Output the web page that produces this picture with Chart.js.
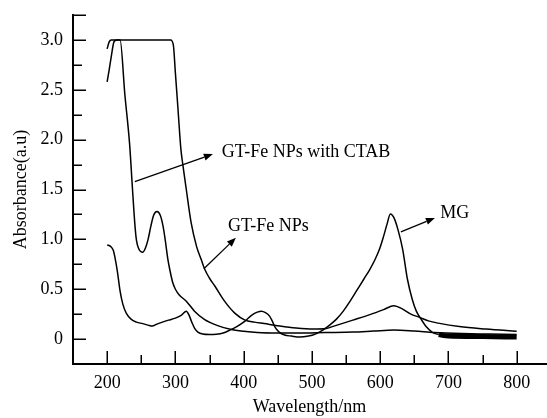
<!DOCTYPE html>
<html>
<head>
<meta charset="utf-8">
<script src="https://cdn.jsdelivr.net/npm/chart.js@4/dist/chart.umd.min.js"></script>
<style>
html,body{margin:0;padding:0;background:#fff;}
#wrap{width:547px;height:418px;}
</style>
</head>
<body>
<div id="wrap"><canvas id="c" width="547" height="418"></canvas></div>
<script>
// ---- data ----
const ctabWavelength = [200,203,206,210,214,219,226,233,237,241,243,246,252,256,260,264,268,273,278,282,285,289,292,296,300,306,316,328,343,362,382,400,420,450,480,520,560,590,620,650,680,720,760,800];
const ctabAbsorbance = [2.58,2.7,2.83,2.98,3.0,3.0,2.45,1.95,1.52,1.12,0.99,0.91,0.87,0.91,1.0,1.13,1.24,1.28,1.24,1.13,1.0,0.8,0.69,0.57,0.5,0.44,0.38,0.28,0.195,0.135,0.095,0.078,0.065,0.06,0.06,0.065,0.07,0.08,0.09,0.08,0.065,0.055,0.05,0.045];

const npsWavelength = [200,203,206,250,293,297,300,304,308,311,316,323,331,338,343,350,358,372,387,402,416,430,453,477,502,521,530,560,585,605,620,633,645,657,672,685,716,755,800];
const npsAbsorbance = [2.91,2.98,3.0,3.0,3.0,2.95,2.67,2.29,1.91,1.745,1.5,1.17,0.93,0.795,0.7,0.61,0.53,0.38,0.26,0.19,0.17,0.155,0.13,0.11,0.10,0.105,0.125,0.19,0.245,0.295,0.335,0.3,0.25,0.22,0.18,0.16,0.125,0.1,0.078];

const mgWavelength = [200,205,209,212,215,219,223,228,235,243,252,260,266,273,281,290,300,309,316,320,324,328,333,340,350,360,370,380,390,402,412,420,426,432,438,442,446,452,460,470,482,495,505,516,526,536,546,556,566,576,585,592,599,605,610,615,620,626,633,640,647,653,660,668,676,686,700,750,800];
const mgAbsorbance = [0.945,0.93,0.89,0.8,0.68,0.48,0.35,0.26,0.2,0.17,0.155,0.14,0.13,0.15,0.17,0.19,0.21,0.24,0.28,0.24,0.17,0.11,0.07,0.05,0.045,0.048,0.06,0.09,0.125,0.18,0.24,0.27,0.28,0.265,0.23,0.18,0.12,0.07,0.04,0.03,0.02,0.03,0.05,0.09,0.14,0.2,0.28,0.38,0.49,0.6,0.7,0.79,0.9,1.03,1.15,1.255,1.22,1.1,0.9,0.6,0.4,0.28,0.2,0.12,0.07,0.045,0.03,0.025,0.02];

const xTickValues = [200,300,400,500,600,700,800];
const xMinorTickValues = [250,350,450,550,650,750];
const yTickValues = [0,0.5,1.0,1.5,2.0,2.5,3.0];
const yTickLabels = ['0','0.5','1.0','1.5','2.0','2.5','3.0'];
const yMinorTickValues = [0.25,0.75,1.25,1.75,2.25,2.75];
const yEndTickValues = [3.25];

const annotationTexts = ['GT-Fe NPs with CTAB','GT-Fe NPs','MG'];
const annotationTextAt = [[368,1.875],[377,1.128],[688,1.265]];
const arrowFrom = [[240.6,1.578],[341.7,0.705],[630.4,1.075]];
const arrowTo = [[354.9,1.855],[388.6,1.015],[680.2,1.215]];

// ---- styles ----
const FONT = "'Liberation Serif','Times New Roman',serif";
const toPts = (xs, ys) => xs.map((x, i) => ({x, y: ys[i]}));

const tickMarks = {
  id: 'tickMarks',
  afterDraw(chart) {
    const {ctx, scales: {x, y}, chartArea: a} = chart;
    ctx.save();
    ctx.strokeStyle = '#000';
    ctx.lineWidth = 1.5;
    const xt = (vals, len) => vals.forEach(v => {
      const p = Math.round(x.getPixelForValue(v)) + 0.25;
      ctx.beginPath(); ctx.moveTo(p, a.bottom); ctx.lineTo(p, a.bottom - len); ctx.stroke();
    });
    const yt = (vals, len) => vals.forEach(v => {
      const p = Math.round(y.getPixelForValue(v)) + 0.25;
      ctx.beginPath(); ctx.moveTo(a.left, p); ctx.lineTo(a.left + len, p); ctx.stroke();
    });
    xt(xTickValues, 13); xt(xMinorTickValues, 9);
    yt(yTickValues, 13); yt(yMinorTickValues, 9); yt(yEndTickValues, 13);
    ctx.restore();
  }
};

const annotations = {
  id: 'annotations',
  afterDraw(chart) {
    const {ctx, scales: {x, y}} = chart;
    ctx.save();
    ctx.fillStyle = '#000';
    ctx.strokeStyle = '#000';
    ctx.lineWidth = 1.3;
    ctx.font = '18px ' + FONT;
    ctx.textAlign = 'left';
    ctx.textBaseline = 'middle';
    annotationTexts.forEach((t, i) => {
      ctx.fillText(t, x.getPixelForValue(annotationTextAt[i][0]), y.getPixelForValue(annotationTextAt[i][1]));
      const x0 = x.getPixelForValue(arrowFrom[i][0]), y0 = y.getPixelForValue(arrowFrom[i][1]);
      const x1 = x.getPixelForValue(arrowTo[i][0]), y1 = y.getPixelForValue(arrowTo[i][1]);
      const ang = Math.atan2(y1 - y0, x1 - x0);
      const L = 9, W = 3.5;
      const bx = x1 - L * Math.cos(ang), by = y1 - L * Math.sin(ang);
      ctx.beginPath(); ctx.moveTo(x0, y0); ctx.lineTo(bx, by); ctx.stroke();
      ctx.beginPath();
      ctx.moveTo(x1, y1);
      ctx.lineTo(bx - W * Math.sin(ang), by + W * Math.cos(ang));
      ctx.lineTo(bx + W * Math.sin(ang), by - W * Math.cos(ang));
      ctx.closePath(); ctx.fill();
    });
    ctx.restore();
  }
};

const lineStyle = {
  borderColor: '#000',
  borderWidth: 1.5,
  pointRadius: 0,
  fill: false,
  cubicInterpolationMode: 'monotone'
};

new Chart(document.getElementById('c'), {
  type: 'line',
  data: {
    datasets: [
      Object.assign({label: 'GT-Fe NPs with CTAB', data: toPts(ctabWavelength, ctabAbsorbance)}, lineStyle),
      Object.assign({label: 'GT-Fe NPs', data: toPts(npsWavelength, npsAbsorbance)}, lineStyle),
      Object.assign({label: 'MG', data: toPts(mgWavelength, mgAbsorbance),
        segment: {borderWidth: c => (c.p0.parsed.x >= 686 ? 5 : 1.5)}}, lineStyle)
    ]
  },
  options: {
    responsive: false,
    animation: false,
    devicePixelRatio: 1,
    layout: {padding: {top: 15, right: 1, left: 0, bottom: 0}},
    plugins: {legend: {display: false}, tooltip: {enabled: false}},
    scales: {
      x: {
        type: 'linear', min: 150, max: 843,
        afterBuildTicks: s => { s.ticks = xTickValues.map(v => ({value: v})); },
        afterFit: s => { s.height = 54; s.paddingLeft = 0; s.paddingRight = 0; },
        grid: {display: false, drawTicks: false},
        border: {display: true, color: '#000', width: 2},
        ticks: {color: '#000', font: {family: FONT, size: 18}, padding: 8, maxRotation: 0, autoSkip: false,
          callback: v => String(v)},
        title: {display: true, text: 'Wavelength/nm', color: '#000', font: {family: FONT, size: 18}, padding: {top: 0, bottom: 0}}
      },
      y: {
        type: 'linear', min: -0.25, max: 3.25,
        afterBuildTicks: s => { s.ticks = yTickValues.map(v => ({value: v})); },
        afterFit: s => { s.width = 73; s.paddingTop = 0; s.paddingBottom = 0; },
        grid: {display: false, drawTicks: false},
        border: {display: true, color: '#000', width: 2},
        ticks: {color: '#000', font: {family: FONT, size: 18}, padding: 10, autoSkip: false,
          callback: (v, i) => yTickLabels[i]},
        title: {display: true, text: 'Absorbance(a.u)', color: '#000', font: {family: FONT, size: 18}, padding: {top: 10, bottom: 0}}
      }
    }
  },
  plugins: [tickMarks, annotations]
});
</script>
</body>
</html>
